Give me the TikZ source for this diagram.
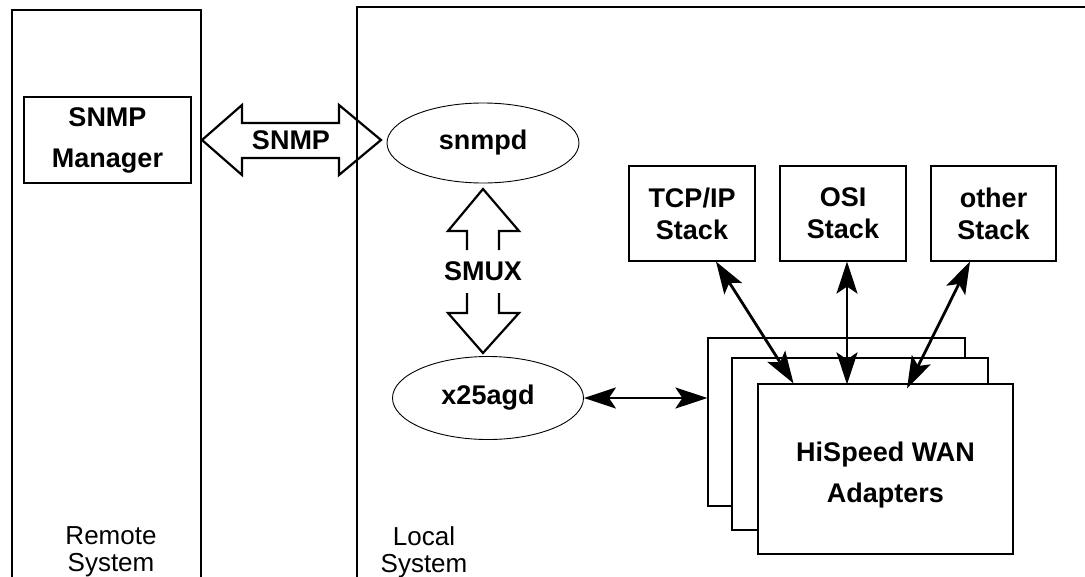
\documentclass[tikz,border=0pt]{standalone}
\usepackage{fontspec}
\setmainfont{Liberation Sans}
\usetikzlibrary{shapes.geometric,arrows.meta}
\begin{document}
\begin{tikzpicture}[x=1pt,y=-1pt,
  lbl/.style={font=\fontsize{27}{32}\selectfont\bfseries, align=center},
  wide/.style={font=\fontsize{27}{41}\selectfont\bfseries},
  plain/.style={font=\fontsize{26}{27}\selectfont, align=center},
  box/.style={draw, line width=1.2pt, fill=white, inner sep=0pt, lbl},
  proc/.style={draw, ellipse, line width=0.9pt, inner sep=0pt, lbl},
  bigarrow/.style={draw, line width=2.2pt, line join=miter},
  link/.style={line width=2.8pt, {Stealth[length=32pt,width=21pt,inset=7pt]}-{Stealth[length=32pt,width=21pt,inset=7pt]}}
]
\useasboundingbox (0,0) rectangle (1085,576);
% system frames
\draw[line width=1.2pt] (12,590) -- (12,10) -- (201,10) -- (201,590);
\draw[line width=1.2pt] (357,590) -- (357,7) -- (1100,7);
\node[plain] (remote) at (111,552) {Remote\\System};
\node[plain] (local) at (424,552) {Local\\System};
% nodes
\node[box, wide, minimum width=167pt, minimum height=86pt] (mgr) at (107.5,140) {SNMP\\Manager};
\node[proc, minimum width=192pt, minimum height=80pt] (snmpd) at (483,143) {snmpd};
\node[proc, minimum width=191pt, minimum height=83pt] (x25) at (488,398) {x25agd};
\node[box, minimum width=126pt, minimum height=95pt] (tcp) at (692,213.5) {TCP/IP\\Stack};
\node[box, minimum width=126pt, minimum height=95pt] (osi) at (843,213.5) {OSI\\Stack};
\node[box, minimum width=125pt, minimum height=95pt] (oth) at (993.5,213.5) {other\\Stack};
\node[box, minimum width=257pt, minimum height=168pt] (back) at (836.5,422) {};
\node[box, minimum width=256pt, minimum height=172pt] (mid) at (860,444) {};
\node[box, minimum width=255pt, minimum height=170pt] (front) at (885.5,469) {};
\node[wide, align=center] (adptxt) at (885.5,475) {HiSpeed WAN\\Adapters};
% SNMP wide double arrow
\draw[bigarrow] (202,140) -- (242,105) -- (242,123) -- (339,123) -- (339,105) -- (381,140)
  -- (339,175) -- (339,158) -- (242,158) -- (242,175) -- cycle;
\node[lbl] (snmplbl) at (291,140) {SNMP};
% SMUX split arrow
\draw[bigarrow] (467,250) -- (467,231) -- (448,231) -- (483,189) -- (519,231) -- (499,231) -- (499,250);
\draw[bigarrow] (467,293) -- (467,313) -- (448,313) -- (483,353) -- (519,313) -- (499,313) -- (499,293);
\node[lbl] (smux) at (483,271) {SMUX};
% connectors
\draw[link] (x25.east) -- (back.west |- x25.east);
\draw[link] ([xshift=24pt]tcp.south) -- ([xshift=-92pt]front.north);
\draw[link] ([xshift=4pt]osi.south) -- ([xshift=-38.5pt,yshift=-1pt]front.north);
\draw[link] ([xshift=-23.5pt]oth.south) -- ([xshift=21.5pt,yshift=-5pt]front.north);
\end{tikzpicture}
\end{document}
